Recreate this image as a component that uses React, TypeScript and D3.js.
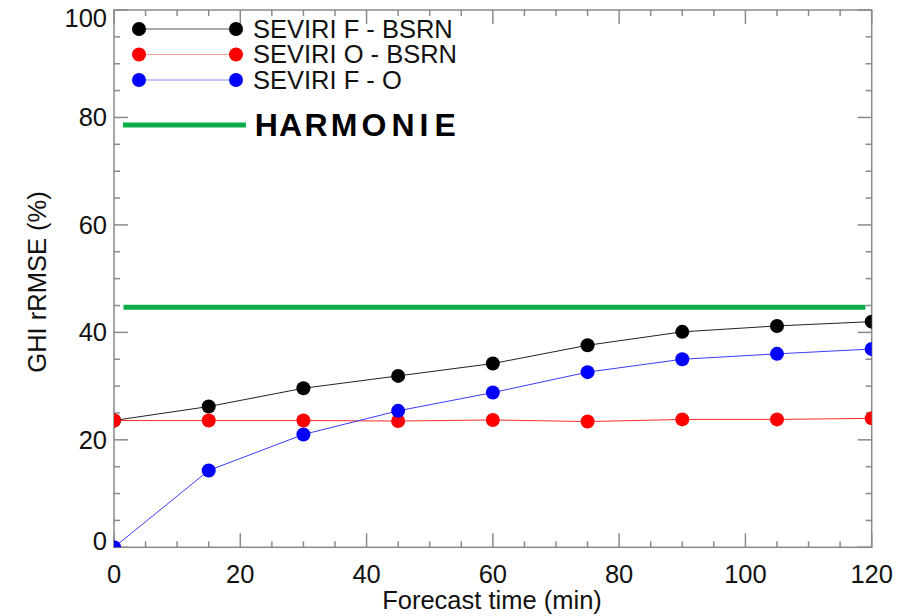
import React from "react";
import * as d3 from "d3";

const forecastTimes = [0, 15, 30, 45, 60, 75, 90, 105, 120];
const seviriFBsrn = [23.6, 26.2, 29.6, 31.9, 34.2, 37.6, 40.1, 41.2, 42.0];
const seviriOBsrn = [23.6, 23.6, 23.6, 23.5, 23.7, 23.4, 23.8, 23.8, 24.0];
const seviriFO = [0.0, 14.3, 21.0, 25.4, 28.8, 32.6, 35.0, 36.0, 36.9];
const harmonieValue = 44.7;
const harmonieRange = [1.5, 119];
const xTicks = [0, 20, 40, 60, 80, 100, 120];
const yTicks = [0, 20, 40, 60, 80, 100];
const legendLabels = ["SEVIRI F - BSRN", "SEVIRI O - BSRN", "SEVIRI F - O"];
const harmonieLabel = "HARMONIE";

const W = 907;
const H = 616;
const L = 114, R = 871.7, T = 10, B = 547.3;
const FONT = "'Liberation Sans', Arial, Helvetica, sans-serif";
const AXIS = "#8a8a8a";

export default function App() {
  const x = d3.scaleLinear().domain([0, 120]).range([L, R]);
  const y = d3.scaleLinear().domain([0, 100]).range([B, T]);
  const line = d3
    .line<number>()
    .x((_, i) => x(forecastTimes[i]))
    .y((d) => y(d));

  const series = [
    { data: seviriFBsrn, line: "#222", marker: "#000", label: legendLabels[0], lc: "#555" },
    { data: seviriOBsrn, line: "#ff2a2a", marker: "#ff0000", label: legendLabels[1], lc: "#ff9a9a" },
    { data: seviriFO, line: "#3a3aff", marker: "#0000ff", label: legendLabels[2], lc: "#8a8aff" },
  ];

  const xMinor = d3.range(0, 121, 5);
  const yMinor = d3.range(0, 101, 5);

  const yLabelBaseline = (v: number) => {
    if (v === 100) return y(v) + 17;
    if (v === 0) return y(v) + 3;
    return y(v) + 9;
  };

  // glyph origins of the spaced-out bold legend label
  const harmonieX = [254.7, 279, 304.6, 330.7, 361.5, 391.6, 419.6, 434.6];

  return (
    <svg width={W} height={H} style={{ position: "absolute", left: 0, top: 0, background: "#fff" }} fontFamily={FONT}>
      <defs>
        <clipPath id="plot">
          <rect x={L} y={T} width={R - L} height={B - T} />
        </clipPath>
      </defs>
      <rect x={0} y={0} width={W} height={H} fill="#fff" />

      {/* ticks */}
      {yMinor.map((v) => {
        const major = v % 20 === 0;
        const len = major ? 14 : 6;
        return (
          <g key={"y" + v} stroke={AXIS} strokeWidth={1.5}>
            <line x1={L} x2={L + len} y1={y(v)} y2={y(v)} />
            <line x1={R} x2={R - len} y1={y(v)} y2={y(v)} />
          </g>
        );
      })}
      {xMinor.map((v) => {
        const major = v % 20 === 0;
        const len = major ? 14 : 6;
        return (
          <g key={"x" + v} stroke={AXIS} strokeWidth={1.5}>
            <line x1={x(v)} x2={x(v)} y1={B} y2={B - len} />
            <line x1={x(v)} x2={x(v)} y1={T} y2={T + len} />
          </g>
        );
      })}
      <rect x={L} y={T} width={R - L} height={B - T} fill="none" stroke={AXIS} strokeWidth={1.5} />

      {/* tick labels */}
      {yTicks.map((v) => (
        <text key={"yl" + v} x={107} y={yLabelBaseline(v)} textAnchor="end" fontSize={25.5} fill="#111">
          {v}
        </text>
      ))}
      {xTicks.map((v) => (
        <text key={"xl" + v} x={x(v)} y={583} textAnchor="middle" fontSize={25.5} fill="#111">
          {v}
        </text>
      ))}
      <text x={492} y={609} textAnchor="middle" fontSize={25.5} fill="#111">
        Forecast time (min)
      </text>
      <text transform={`translate(46,282) rotate(-90)`} textAnchor="middle" fontSize={25.5} fill="#111">
        GHI rRMSE (%)
      </text>

      {/* data */}
      <g clipPath="url(#plot)">
        <line
          x1={x(harmonieRange[0])}
          x2={x(harmonieRange[1])}
          y1={y(harmonieValue)}
          y2={y(harmonieValue)}
          stroke="#0aad4a"
          strokeWidth={5}
        />
        {series.map((s, si) => (
          <g key={"s" + si}>
            <path d={line(s.data) || ""} fill="none" stroke={s.line} strokeWidth={1} />
            {s.data.map((d, i) => (
              <circle key={i} cx={x(forecastTimes[i])} cy={y(d)} r={7} fill={s.marker} />
            ))}
          </g>
        ))}
      </g>

      {/* legend */}
      {series.map((s, si) => {
        const ly = 29 + si * 25.5;
        return (
          <g key={"lg" + si}>
            <line x1={139} x2={236} y1={ly} y2={ly} stroke={s.lc} strokeWidth={1} />
            <circle cx={139} cy={ly} r={7} fill={s.marker} />
            <circle cx={236} cy={ly} r={7} fill={s.marker} />
            <text x={253} y={ly + 8.5} fontSize={25.5} fill="#111">
              {s.label}
            </text>
          </g>
        );
      })}
      <line x1={123} x2={246} y1={125} y2={125} stroke="#0aad4a" strokeWidth={5} />
      <text x={harmonieX.join(" ")} y={136} fontSize={32} fontWeight="bold" fill="#000">
        {harmonieLabel}
      </text>
    </svg>
  );
}
